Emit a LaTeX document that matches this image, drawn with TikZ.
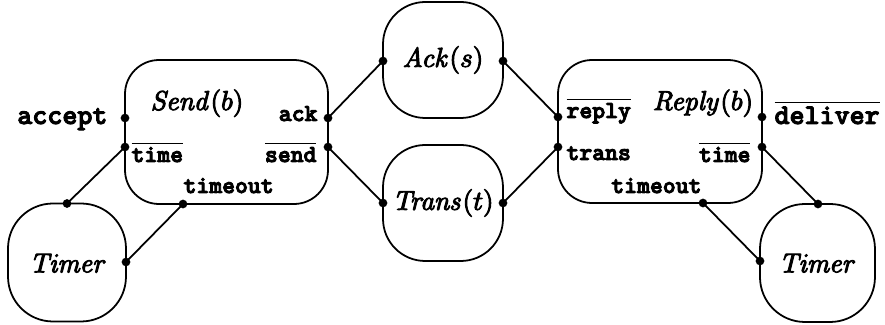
\documentclass[tikz,border=0pt]{standalone}
\usetikzlibrary{calc}
% heavier glyphs: fill and stroke the outlines
\newcommand{\heavy}[1]{\special{pdf:literal direct 2 Tr 0.35 w}#1\special{pdf:literal direct 0 Tr}}
\newcommand{\coname}[1]{$\overline{\hbox{#1}}$}
\begin{document}
\begin{tikzpicture}[x=0.367pt,y=-0.367pt]
\tikzset{
  proc/.style={draw, line width=0.65pt, inner sep=0pt},
  port/.style={circle, fill, inner sep=0pt, minimum size=3.2pt},
  wire/.style={line width=0.65pt},
  chan/.style={font=\fontsize{9}{10}\selectfont\ttfamily\bfseries, inner sep=0pt},
  extchan/.style={font=\fontsize{10.5}{12}\selectfont\ttfamily\bfseries, inner sep=0pt},
  pname/.style={font=\fontsize{10}{12}\selectfont, inner sep=0pt},
}
\useasboundingbox (0,0) rectangle (885,325);

% process boxes
\node[proc, rounded corners=12.5pt, minimum width=203*0.367pt, minimum height=144*0.367pt] (send) at (226.5,132) {};
\node[proc, rounded corners=12.5pt, minimum width=204*0.367pt, minimum height=143*0.367pt] (reply) at (660,131.5) {};
\node[proc, rounded corners=16.5pt, minimum width=118*0.367pt, minimum height=118*0.367pt] (timerL) at (67,262.5) {};
\node[proc, rounded corners=16.5pt, minimum width=115*0.367pt, minimum height=118*0.367pt] (timerR) at (817.5,263) {};
\node[proc, rounded corners=15.5pt, minimum width=120*0.367pt, minimum height=116*0.367pt] (ack) at (443,60) {};
\node[proc, rounded corners=15.5pt, minimum width=120*0.367pt, minimum height=116*0.367pt] (trans) at (443,203) {};

% process names
\node[pname, anchor=base] at (197,110) {\heavy{$\mathit{Send}(b)$}};
\node[pname, anchor=base] at (703,110) {\heavy{$\mathit{Reply}(b)$}};
\node[pname] at (443,60) {\heavy{$\mathit{Ack}(s)$}};
\node[pname] at (443,203) {\heavy{$\mathit{Trans}(t)$}};
\node[pname] at (68,263) {\heavy{$\mathit{Timer}$}};
\node[pname] at (817.5,263) {\heavy{$\mathit{Timer}$}};

% ports
\coordinate (sAccept)  at (125,118);
\coordinate (sTime)    at (125,147);
\coordinate (sAck)     at (328,118);
\coordinate (sSend)    at (328,147);
\coordinate (sTimeout) at (183,204);
\coordinate (tlTop)    at (67,203.5);
\coordinate (tlRight)  at (126,262);
\coordinate (aLeft)    at (383,61);
\coordinate (aRight)   at (503,61);
\coordinate (trLeft)   at (383,203);
\coordinate (trRight)  at (503,203);
\coordinate (rReply)   at (558,117);
\coordinate (rTrans)   at (558,147);
\coordinate (rDeliver) at (762,117);
\coordinate (rTime)    at (762,147);
\coordinate (rTimeout) at (703,203);
\coordinate (trTop)    at (818,204);
\coordinate (trLeftT)  at (760,261);

\foreach \p in {sAccept,sTime,sAck,sSend,sTimeout,tlTop,tlRight,aLeft,aRight,
                trLeft,trRight,rReply,rTrans,rDeliver,rTime,rTimeout,trTop,trLeftT}
  \node[port] at (\p) {};

% connectors
\draw[wire] (sTime) -- (tlTop);
\draw[wire] (sTimeout) -- (tlRight);
\draw[wire] (sAck) -- (aLeft);
\draw[wire] (sSend) -- (trLeft);
\draw[wire] (aRight) -- (rReply);
\draw[wire] (trRight) -- (rTrans);
\draw[wire] (rTime) -- (trTop);
\draw[wire] (rTimeout) -- (trLeftT);

% channel labels
\node[extchan, anchor=base east] at (108,124) {\heavy{accept}};
\node[chan, anchor=base east] at (318,121) {\heavy{ack}};
\node[chan, anchor=base west] at (131,162) {\coname{\heavy{time}}};
\node[chan, anchor=base east] at (317,162) {\coname{\heavy{send}}};
\node[chan, anchor=base west] at (183,193) {\heavy{timeout}};
\node[chan, anchor=base west] at (566,118) {\coname{\heavy{reply}}};
\node[chan, anchor=base west] at (566,160) {\heavy{trans}};
\node[chan, anchor=base east] at (751,162) {\coname{\heavy{time}}};
\node[chan, anchor=base east] at (702,193) {\heavy{timeout}};
\node[extchan, anchor=base west] at (774,124) {\coname{\heavy{deliver}}};
\end{tikzpicture}
\end{document}
